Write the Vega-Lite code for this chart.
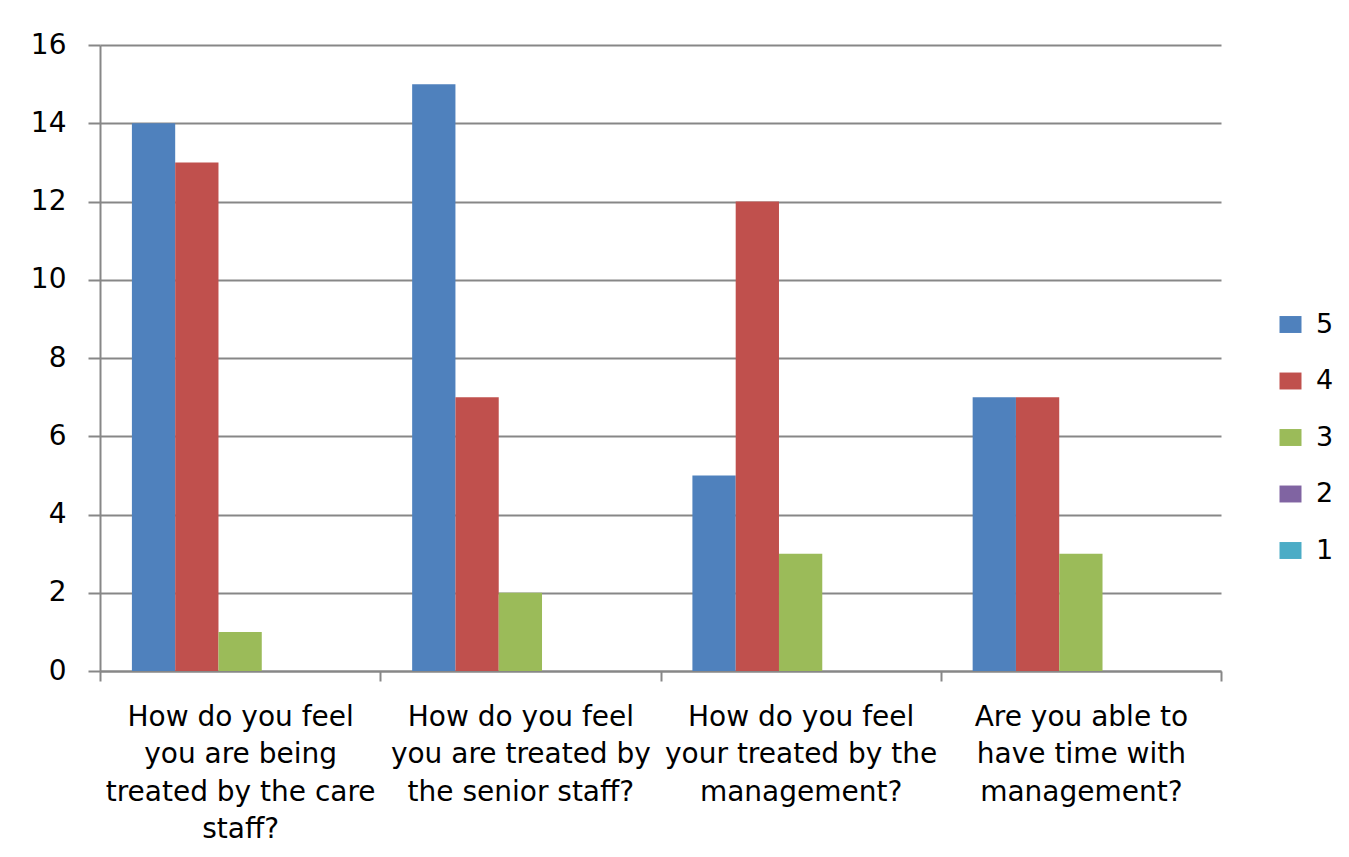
{
  "$schema": "https://vega.github.io/schema/vega-lite/v6.json",
  "width": 1121,
  "height": 626,
  "autosize": {"type": "none"},
  "padding": {"left": 100, "top": 45, "right": 128, "bottom": 186},
  "background": "white",
  "data": {
    "values": [
      {"question": "How do you feel you are being treated by the care staff?", "rating": "5", "count": 14},
      {"question": "How do you feel you are being treated by the care staff?", "rating": "4", "count": 13},
      {"question": "How do you feel you are being treated by the care staff?", "rating": "3", "count": 1},
      {"question": "How do you feel you are being treated by the care staff?", "rating": "2", "count": 0},
      {"question": "How do you feel you are being treated by the care staff?", "rating": "1", "count": 0},
      {"question": "How do you feel you are treated by the senior staff?", "rating": "5", "count": 15},
      {"question": "How do you feel you are treated by the senior staff?", "rating": "4", "count": 7},
      {"question": "How do you feel you are treated by the senior staff?", "rating": "3", "count": 2},
      {"question": "How do you feel you are treated by the senior staff?", "rating": "2", "count": 0},
      {"question": "How do you feel you are treated by the senior staff?", "rating": "1", "count": 0},
      {"question": "How do you feel your treated by the management?", "rating": "5", "count": 5},
      {"question": "How do you feel your treated by the management?", "rating": "4", "count": 12},
      {"question": "How do you feel your treated by the management?", "rating": "3", "count": 3},
      {"question": "How do you feel your treated by the management?", "rating": "2", "count": 0},
      {"question": "How do you feel your treated by the management?", "rating": "1", "count": 0},
      {"question": "Are you able to have time with management?", "rating": "5", "count": 7},
      {"question": "Are you able to have time with management?", "rating": "4", "count": 7},
      {"question": "Are you able to have time with management?", "rating": "3", "count": 3},
      {"question": "Are you able to have time with management?", "rating": "2", "count": 0},
      {"question": "Are you able to have time with management?", "rating": "1", "count": 0}
    ]
  },
  "mark": {"type": "bar"},
  "encoding": {
    "x": {
      "field": "question",
      "type": "nominal",
      "sort": [
        "How do you feel you are being treated by the care staff?",
        "How do you feel you are treated by the senior staff?",
        "How do you feel your treated by the management?",
        "Are you able to have time with management?"
      ],
      "scale": {"paddingInner": 0, "paddingOuter": 0},
      "axis": {
        "title": null,
        "labelAngle": 0,
        "grid": false,
        "tickBand": "extent",
        "tickSize": 10,
        "tickWidth": 2,
        "tickColor": "#878787",
        "domainColor": "#878787",
        "domainWidth": 2,
        "labelFont": "DejaVu Sans",
        "labelFontSize": 28,
        "labelColor": "#000000",
        "labelPadding": 22,
        "labelLimit": 0,
        "labelLineHeight": 37.5,
        "labelBaseline": "top",
        "labelExpr": "datum.value == 'How do you feel you are being treated by the care staff?' ? ['How do you feel', 'you are being', 'treated by the care', 'staff?'] : datum.value == 'How do you feel you are treated by the senior staff?' ? ['How do you feel', 'you are treated by', 'the senior staff?'] : datum.value == 'How do you feel your treated by the management?' ? ['How do you feel', 'your treated by the', 'management?'] : datum.value == 'Are you able to have time with management?' ? ['Are you able to', 'have time with', 'management?'] : ''"
      }
    },
    "xOffset": {
      "field": "rating",
      "type": "nominal",
      "sort": ["5", "4", "3", "2", "1"],
      "scale": {"paddingInner": 0, "paddingOuter": 0.737}
    },
    "y": {
      "field": "count",
      "type": "quantitative",
      "scale": {"domain": [0, 16], "nice": false},
      "axis": {
        "title": null,
        "values": [0, 2, 4, 6, 8, 10, 12, 14, 16],
        "grid": true,
        "gridColor": "#878787",
        "gridWidth": 2,
        "domainColor": "#878787",
        "domainWidth": 2,
        "tickColor": "#878787",
        "tickWidth": 2,
        "tickSize": 12,
        "labelFont": "DejaVu Sans",
        "labelFontSize": 28,
        "labelColor": "#000000",
        "labelPadding": 22
      }
    },
    "color": {
      "field": "rating",
      "type": "nominal",
      "scale": {
        "domain": ["5", "4", "3", "2", "1"],
        "range": ["#4F81BD", "#C0504D", "#9BBB59", "#8064A2", "#4BACC6"]
      },
      "legend": {
        "title": null,
        "orient": "none",
        "direction": "vertical",
        "legendX": 1177,
        "legendY": 266,
        "symbolType": "M-1,-0.77H1V0.77H-1Z",
        "symbolSize": 484,
        "symbolStrokeWidth": 0,
        "labelFont": "DejaVu Sans",
        "labelFontSize": 27,
        "labelColor": "#000000",
        "labelOffset": 12,
        "rowPadding": 28.5
      }
    }
  },
  "config": {"view": {"stroke": null}}
}
